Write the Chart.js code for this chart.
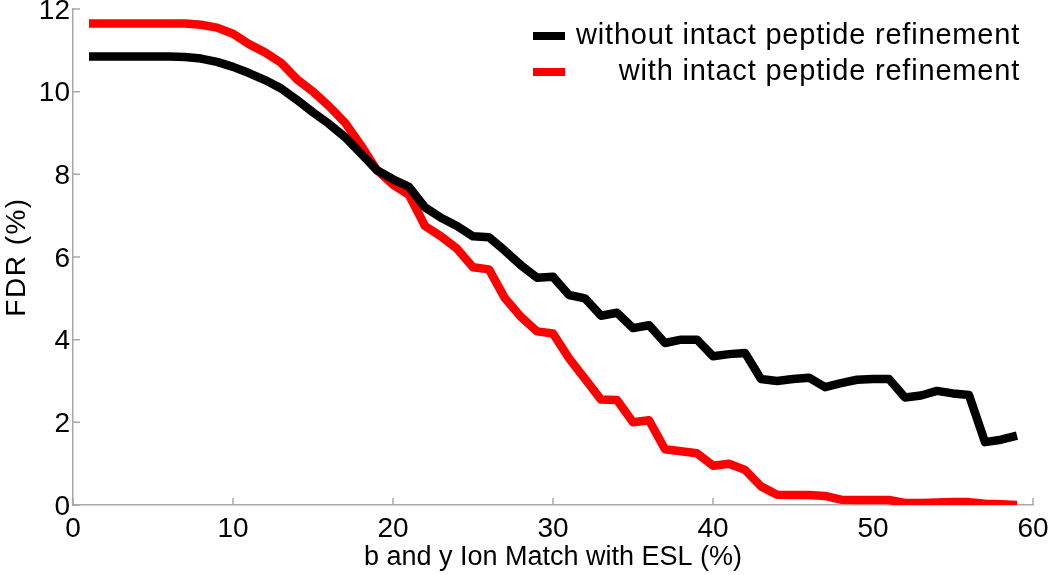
<!DOCTYPE html>
<html>
<head>
<meta charset="utf-8">
<script src="https://cdn.jsdelivr.net/npm/chart.js@4"></script>
<style>
    html, body { margin: 0; padding: 0; background: #fff; }
    #wrap { width: 1050px; height: 575px; }
</style>
</head>
<body>
<div id="wrap"><canvas id="fdrChart" width="1050" height="575"></canvas></div>
<script>
// b and y ion match (%) on the x axis
const ionMatch = [1, 2, 3, 4, 5, 6, 7, 8, 9, 10, 11, 12, 13, 14, 15, 16, 17, 18, 19, 20,
    21, 22, 23, 24, 25, 26, 27, 28, 29, 30, 31, 32, 33, 34, 35, 36, 37, 38, 39, 40,
    41, 42, 43, 44, 45, 46, 47, 48, 49, 50, 51, 52, 53, 54, 55, 56, 57, 58, 59];

// FDR (%) without intact peptide refinement
const fdrWithout = [10.85, 10.85, 10.85, 10.85, 10.85, 10.85, 10.84, 10.8, 10.72, 10.6,
    10.45, 10.28, 10.08, 9.8, 9.5, 9.22, 8.9, 8.5, 8.1, 7.88,
    7.7, 7.2, 6.95, 6.75, 6.5, 6.48, 6.15, 5.8, 5.5, 5.52,
    5.08, 5.0, 4.58, 4.65, 4.28, 4.35, 3.92, 4.0, 4.0, 3.6,
    3.65, 3.68, 3.05, 3.0, 3.05, 3.08, 2.85, 2.95, 3.03, 3.05,
    3.05, 2.6, 2.65, 2.76, 2.7, 2.66, 1.52, 1.58, 1.68];

// FDR (%) with intact peptide refinement
const fdrWith = [11.65, 11.65, 11.65, 11.65, 11.65, 11.65, 11.65, 11.62, 11.55, 11.4,
    11.15, 10.95, 10.7, 10.3, 10.0, 9.65, 9.25, 8.7, 8.1, 7.75,
    7.5, 6.75, 6.5, 6.2, 5.75, 5.7, 5.0, 4.55, 4.2, 4.15,
    3.55, 3.05, 2.55, 2.54, 2.0, 2.05, 1.35, 1.3, 1.25, 0.95,
    1.0, 0.85, 0.45, 0.25, 0.24, 0.24, 0.22, 0.13, 0.12, 0.12,
    0.12, 0.05, 0.05, 0.06, 0.07, 0.07, 0.03, 0.02, 0.0];

const seriesNames = ['without intact peptide refinement', 'with intact peptide refinement'];
const seriesColors = ['#000000', '#ff0000'];
const xTitle = 'b and y Ion Match with ESL (%)';
const yTitle = 'FDR (%)';

const axisGray = '#a8a8a8';
const fontFamily = '"Liberation Sans", Arial, Helvetica, sans-serif';

function toPoints(values) {
    return ionMatch.map((x, i) => ({ x: x, y: values[i] }));
}

// MATLAB style ticks pointing into the plot
const inwardTicks = {
    id: 'inwardTicks',
    beforeDatasetsDraw(chart) {
        const ctx = chart.ctx;
        const xs = chart.scales.x;
        const ys = chart.scales.y;
        const len = 7;
        ctx.save();
        ctx.strokeStyle = axisGray;
        ctx.lineWidth = 1.5;
        ctx.beginPath();
        xs.ticks.forEach(t => {
            const px = xs.getPixelForValue(t.value);
            ctx.moveTo(px, ys.bottom);
            ctx.lineTo(px, ys.bottom - len);
        });
        ys.ticks.forEach(t => {
            const py = ys.getPixelForValue(t.value);
            ctx.moveTo(xs.left, py);
            ctx.lineTo(xs.left + len, py);
        });
        ctx.stroke();
        ctx.restore();
    }
};

// axis titles, centred on the plot area
const axisTitles = {
    id: 'axisTitles',
    afterDraw(chart) {
        const ctx = chart.ctx;
        const area = chart.chartArea;
        ctx.save();
        ctx.fillStyle = '#000';
        ctx.textAlign = 'center';
        ctx.textBaseline = 'alphabetic';
        ctx.font = '27px ' + fontFamily;
        ctx.fillText(xTitle, (area.left + area.right) / 2, 565);
        ctx.translate(25, (area.top + area.bottom) / 2);
        ctx.rotate(-Math.PI / 2);
        ctx.font = '28px ' + fontFamily;
        ctx.letterSpacing = '1.5px';
        ctx.fillText(yTitle, 0, 0);
        ctx.restore();
    }
};

// legend in the top right corner, second entry right aligned like the original
const cornerLegend = {
    id: 'cornerLegend',
    afterDatasetsDraw(chart) {
        const ctx = chart.ctx;
        const textRight = 1020;
        const sampleLeft = 533;
        const sampleRight = 565;
        const rows = [36, 72];
        ctx.save();
        ctx.font = '29px ' + fontFamily;
        ctx.letterSpacing = '0.8px';
        ctx.textBaseline = 'middle';
        ctx.textAlign = 'right';
        seriesNames.forEach((name, i) => {
            ctx.strokeStyle = seriesColors[i];
            ctx.lineWidth = 8;
            ctx.beginPath();
            ctx.moveTo(sampleLeft, rows[i]);
            ctx.lineTo(sampleRight, rows[i]);
            ctx.stroke();
            ctx.fillStyle = '#000';
            ctx.fillText(name, textRight, rows[i]);
        });
        ctx.restore();
    }
};

const ctx = document.getElementById('fdrChart').getContext('2d');
const fdrChart = new Chart(ctx, {
    type: 'line',
    data: {
        datasets: [
            {
                label: seriesNames[0],
                data: toPoints(fdrWithout),
                borderColor: seriesColors[0],
                borderWidth: 8.5,
                pointRadius: 0,
                borderJoinStyle: 'round',
                tension: 0
            },
            {
                label: seriesNames[1],
                data: toPoints(fdrWith),
                borderColor: seriesColors[1],
                borderWidth: 8.5,
                pointRadius: 0,
                borderJoinStyle: 'round',
                tension: 0
            }
        ]
    },
    options: {
        responsive: false,
        animation: false,
        events: [],
        layout: {
            padding: { left: 0, right: 17, top: 9, bottom: 0 }
        },
        plugins: {
            legend: { display: false },
            tooltip: { enabled: false }
        },
        scales: {
            x: {
                type: 'linear',
                min: 0,
                max: 60,
                afterFit: (scale) => {
                    scale.height = 70;
                    scale.paddingLeft = 0;
                    scale.paddingRight = 0;
                },
                grid: { display: true, drawOnChartArea: false, drawTicks: false },
                border: { display: true, color: axisGray, width: 1.5 },
                ticks: {
                    stepSize: 10,
                    padding: 7,
                    color: '#000',
                    font: { family: fontFamily, size: 28 }
                }
            },
            y: {
                min: 0,
                max: 12,
                afterFit: (scale) => {
                    scale.width = 73;
                    scale.paddingTop = 0;
                    scale.paddingBottom = 0;
                },
                grid: { display: true, drawOnChartArea: false, drawTicks: false },
                border: { display: true, color: axisGray, width: 1.5 },
                ticks: {
                    stepSize: 2,
                    padding: 3,
                    labelOffset: 2,
                    color: '#000',
                    font: { family: fontFamily, size: 28 }
                }
            }
        }
    },
    plugins: [inwardTicks, axisTitles, cornerLegend]
});
</script>
</body>
</html>
